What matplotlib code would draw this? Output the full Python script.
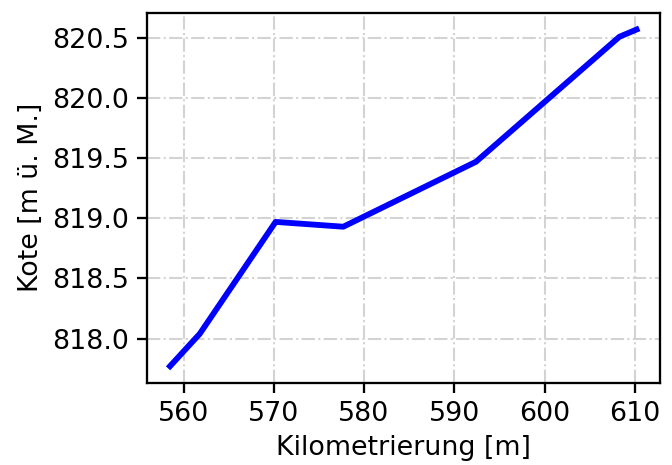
import matplotlib
matplotlib.use("Agg")
import matplotlib.pyplot as plt

# Laengsprofil: Kilometrierung vs. Kote
km = [558.5, 561.8, 570.2, 577.7, 592.4, 608.3, 610.2]
kote = [817.77, 818.04, 818.97, 818.93, 819.47, 820.51, 820.57]

plt.rcParams['font.size'] = 12.9
plt.rcParams['axes.linewidth'] = 1.1
plt.rcParams['xtick.major.width'] = 1.1
plt.rcParams['ytick.major.width'] = 1.1
plt.rcParams['xtick.major.size'] = 5
plt.rcParams['ytick.major.size'] = 5

fig = plt.figure(figsize=(4.48, 3.1), dpi=150)
ax = fig.add_axes([0.2183, 0.1763, 0.7637, 0.7964])

ax.plot(km, kote, color='blue', linewidth=2.8)

ax.grid(True, linestyle='-.', color='lightgray', linewidth=1.0)
ax.set_axisbelow(True)
ax.set_xlabel("Kilometrierung [m]")
ax.set_ylabel("Kote [m ü. M.]")
ax.set_yticks([818.0, 818.5, 819.0, 819.5, 820.0, 820.5])

fig.savefig("out.png", dpi=150)
